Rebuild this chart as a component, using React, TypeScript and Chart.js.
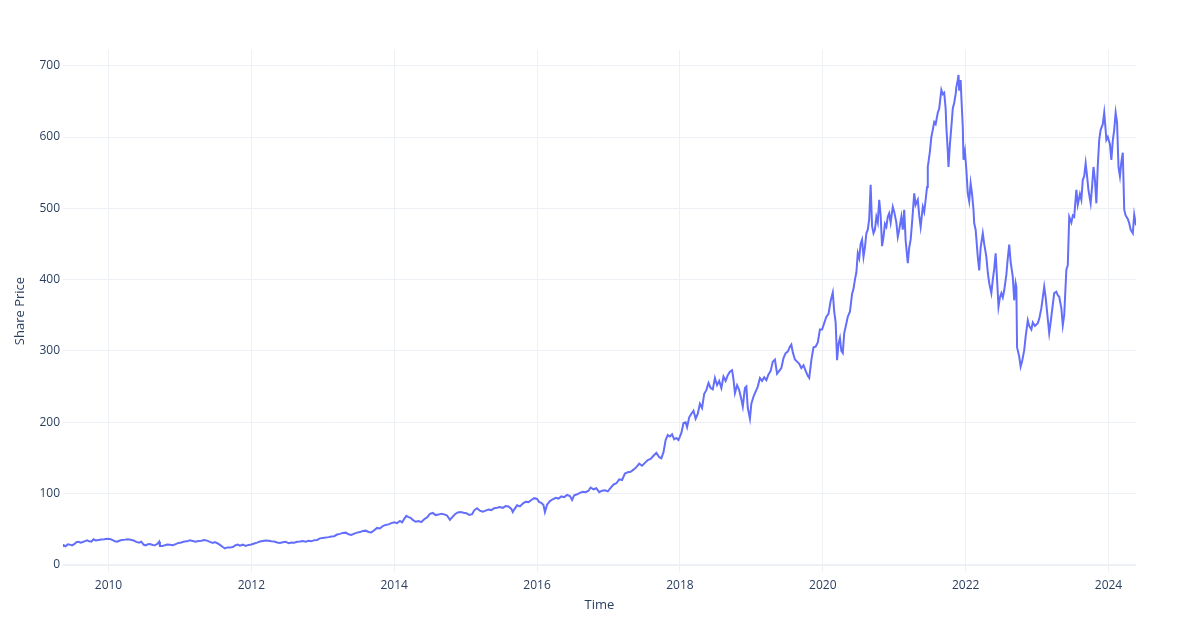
import React, { useEffect, useRef } from "react";
import { Chart, registerables } from "chart.js";

Chart.register(...registerables);

// Time in decimal years
const times: number[] = [
  2009.363, 2009.37, 2009.40, 2009.43, 2009.46, 2009.49, 2009.52, 2009.55, 2009.58, 2009.61,
  2009.64, 2009.67, 2009.70, 2009.73, 2009.76, 2009.79, 2009.82, 2009.86, 2009.90, 2009.94,
  2009.98, 2010.02, 2010.06, 2010.09, 2010.12, 2010.15, 2010.19, 2010.23, 2010.27, 2010.31,
  2010.35, 2010.39, 2010.43, 2010.46, 2010.49, 2010.52, 2010.55, 2010.58, 2010.62, 2010.65,
  2010.69, 2010.71, 2010.72, 2010.75, 2010.79, 2010.82, 2010.86, 2010.90, 2010.94, 2010.98,
  2011.02, 2011.06, 2011.10, 2011.14, 2011.18, 2011.22, 2011.26, 2011.30, 2011.34, 2011.38,
  2011.42, 2011.46, 2011.49, 2011.53, 2011.56, 2011.60, 2011.63, 2011.66, 2011.70, 2011.74,
  2011.78, 2011.81, 2011.84, 2011.88, 2011.92, 2011.96, 2012.00, 2012.04, 2012.08, 2012.12,
  2012.16, 2012.20, 2012.24, 2012.28, 2012.32, 2012.36, 2012.40, 2012.44, 2012.48, 2012.52,
  2012.56, 2012.60, 2012.64, 2012.68, 2012.72, 2012.76, 2012.80, 2012.84, 2012.88, 2012.92,
  2012.96, 2013.00, 2013.04, 2013.08, 2013.12, 2013.16, 2013.20, 2013.24, 2013.28, 2013.32,
  2013.36, 2013.40, 2013.44, 2013.48, 2013.52, 2013.56, 2013.60, 2013.64, 2013.68, 2013.72,
  2013.76, 2013.80, 2013.84, 2013.88, 2013.92, 2013.96, 2014.00, 2014.04, 2014.08, 2014.11,
  2014.14, 2014.17, 2014.20, 2014.23, 2014.26, 2014.30, 2014.34, 2014.38, 2014.42, 2014.46,
  2014.50, 2014.54, 2014.58, 2014.62, 2014.66, 2014.70, 2014.74, 2014.78, 2014.81, 2014.85,
  2014.89, 2014.93, 2014.97, 2015.01, 2015.05, 2015.09, 2015.12, 2015.16, 2015.20, 2015.24,
  2015.28, 2015.32, 2015.36, 2015.40, 2015.44, 2015.48, 2015.52, 2015.56, 2015.60, 2015.64,
  2015.66, 2015.68, 2015.72, 2015.76, 2015.80, 2015.84, 2015.88, 2015.92, 2015.96, 2016.00,
  2016.03, 2016.06, 2016.09, 2016.11, 2016.14, 2016.18, 2016.22, 2016.26, 2016.30, 2016.34,
  2016.38, 2016.42, 2016.46, 2016.49, 2016.52, 2016.56, 2016.60, 2016.64, 2016.68, 2016.72,
  2016.75, 2016.79, 2016.83, 2016.87, 2016.91, 2016.95, 2016.99, 2017.03, 2017.07, 2017.11,
  2017.15, 2017.19, 2017.23, 2017.27, 2017.31, 2017.35, 2017.39, 2017.43, 2017.47, 2017.51,
  2017.55, 2017.59, 2017.63, 2017.67, 2017.71, 2017.74, 2017.77, 2017.80, 2017.83, 2017.86,
  2017.89, 2017.92, 2017.95, 2017.98, 2018.02, 2018.05, 2018.08, 2018.10, 2018.13, 2018.16,
  2018.19, 2018.22, 2018.25, 2018.28, 2018.31, 2018.34, 2018.37, 2018.40, 2018.43, 2018.46,
  2018.49, 2018.52, 2018.55, 2018.58, 2018.61, 2018.64, 2018.67, 2018.70, 2018.73, 2018.75,
  2018.77, 2018.80, 2018.83, 2018.86, 2018.88, 2018.91, 2018.93, 2018.95, 2018.98, 2019.00,
  2019.03, 2019.06, 2019.09, 2019.12, 2019.15, 2019.18, 2019.21, 2019.24, 2019.27, 2019.30,
  2019.33, 2019.36, 2019.39, 2019.42, 2019.45, 2019.48, 2019.51, 2019.54, 2019.56, 2019.58,
  2019.61, 2019.64, 2019.67, 2019.70, 2019.73, 2019.76, 2019.79, 2019.81, 2019.84, 2019.87,
  2019.90, 2019.93, 2019.96, 2019.99, 2020.02, 2020.05, 2020.08, 2020.11, 2020.14, 2020.16,
  2020.18, 2020.20, 2020.22, 2020.24, 2020.26, 2020.28, 2020.30, 2020.32, 2020.35, 2020.38,
  2020.41, 2020.43, 2020.45, 2020.47, 2020.49, 2020.51, 2020.53, 2020.55, 2020.57, 2020.59,
  2020.61, 2020.63, 2020.65, 2020.67, 2020.69, 2020.71, 2020.73, 2020.75, 2020.77, 2020.79,
  2020.81, 2020.83, 2020.85, 2020.87, 2020.89, 2020.91, 2020.93, 2020.95, 2020.98, 2021.00,
  2021.03, 2021.05, 2021.07, 2021.10, 2021.12, 2021.14, 2021.16, 2021.19, 2021.21, 2021.23,
  2021.25, 2021.28, 2021.30, 2021.33, 2021.35, 2021.37, 2021.40, 2021.42, 2021.44, 2021.46,
  2021.47, 2021.50, 2021.52, 2021.54, 2021.56, 2021.58, 2021.61, 2021.63, 2021.66, 2021.68,
  2021.70, 2021.72, 2021.73, 2021.75, 2021.76, 2021.78, 2021.80, 2021.82, 2021.84, 2021.86,
  2021.87, 2021.89, 2021.90, 2021.91, 2021.93, 2021.94, 2021.96, 2021.97, 2021.99, 2022.01,
  2022.03, 2022.05, 2022.07, 2022.09, 2022.11, 2022.12, 2022.14, 2022.17, 2022.19, 2022.21,
  2022.24, 2022.26, 2022.29, 2022.31, 2022.33, 2022.36, 2022.38, 2022.40, 2022.42, 2022.44,
  2022.46, 2022.48, 2022.50, 2022.52, 2022.54, 2022.57, 2022.59, 2022.61, 2022.63, 2022.66,
  2022.68, 2022.70, 2022.71, 2022.72, 2022.75, 2022.77, 2022.79, 2022.82, 2022.84, 2022.87,
  2022.89, 2022.92, 2022.94, 2022.97, 2023.01, 2023.03, 2023.06, 2023.08, 2023.10, 2023.12,
  2023.15, 2023.17, 2023.19, 2023.22, 2023.24, 2023.27, 2023.29, 2023.31, 2023.34, 2023.36,
  2023.38, 2023.41, 2023.43, 2023.45, 2023.48, 2023.50, 2023.52, 2023.55, 2023.57, 2023.60,
  2023.62, 2023.64, 2023.66, 2023.68, 2023.70, 2023.72, 2023.75, 2023.77, 2023.79, 2023.81,
  2023.83, 2023.85, 2023.87, 2023.89, 2023.92, 2023.94, 2023.96, 2023.97, 2023.99, 2024.02,
  2024.04, 2024.06, 2024.08, 2024.10, 2024.12, 2024.14, 2024.16, 2024.18, 2024.20, 2024.22,
  2024.24, 2024.27, 2024.29, 2024.31, 2024.34, 2024.36, 2024.385,
];

// Share price
const prices: number[] = [
  26.5, 27.8, 26.2, 28.9, 28.4, 27.2, 29.0, 31.8, 32.3, 31.0,
  32.0, 33.2, 34.5, 33.0, 32.4, 35.8, 34.2, 34.9, 35.5, 35.8,
  36.7, 36.2, 34.8, 33.0, 32.4, 33.8, 35.0, 35.4, 35.9, 35.2,
  34.3, 32.2, 31.0, 32.5, 28.5, 27.4, 28.8, 29.2, 28.0, 27.5,
  30.0, 32.5, 26.5, 26.3, 27.5, 28.5, 28.3, 27.6, 29.0, 30.8,
  31.5, 32.8, 33.0, 34.4, 33.5, 32.6, 33.4, 33.8, 34.8, 34.0,
  32.2, 30.8, 31.9, 30.0, 28.0, 25.0, 23.0, 24.5, 24.2, 25.0,
  27.5, 28.5, 27.0, 28.3, 26.6, 28.0, 28.5, 30.0, 31.2, 32.8,
  33.5, 34.2, 33.8, 33.0, 32.8, 31.5, 30.8, 31.8, 32.5, 30.5,
  31.5, 31.0, 32.3, 32.8, 33.5, 32.6, 33.8, 33.0, 34.6, 35.0,
  37.2, 37.8, 38.3, 38.9, 39.8, 40.2, 42.5, 43.5, 44.8, 45.2,
  43.0, 42.0, 43.8, 45.2, 46.0, 47.5, 48.0, 46.2, 45.5, 48.5,
  51.8, 51.0, 54.5, 56.0, 56.8, 58.5, 59.8, 58.5, 61.5, 59.5,
  64.5, 68.8, 67.0, 66.0, 63.0, 60.5, 61.5, 60.0, 64.0, 66.5,
  71.5, 72.8, 69.8, 70.5, 71.8, 70.8, 69.2, 63.0, 66.5, 71.0,
  73.5, 74.2, 73.0, 72.5, 70.0, 71.0, 76.5, 79.5, 76.0, 74.5,
  76.0, 77.5, 76.8, 79.5, 80.2, 81.0, 80.0, 82.5, 82.0, 78.5,
  74.0, 77.5, 83.5, 82.0, 86.0, 88.5, 88.0, 91.0, 93.5, 92.5,
  88.0, 87.0, 84.0, 74.0, 84.5, 89.5, 92.0, 94.0, 93.0, 96.0,
  95.0, 98.0, 96.5, 91.0, 97.5, 99.0, 101.0, 102.5, 102.0, 104.0,
  108.5, 106.0, 107.5, 102.0, 104.0, 104.5, 103.0, 108.0, 112.5, 114.5,
  120.0, 119.0, 128.0, 130.0, 130.5, 133.5, 137.0, 142.0, 139.0, 143.0,
  147.0, 148.5, 153.0, 157.0, 151.0, 149.5, 158.0, 175.0, 182.0, 180.0,
  183.0, 176.0, 178.0, 175.0, 185.0, 199.0, 200.0, 193.0, 207.0, 212.0,
  216.0, 205.0, 212.0, 226.0, 220.0, 240.0, 245.0, 255.0, 248.0, 246.0,
  262.0, 252.0, 258.0, 248.0, 264.0, 258.0, 266.0, 271.0, 273.0, 260.0,
  241.0, 252.0, 245.0, 232.0, 222.0, 248.0, 250.0, 220.0, 205.0, 226.0,
  236.0, 243.0, 250.0, 262.0, 258.0, 263.0, 259.0, 267.0, 272.0, 285.0,
  288.0, 268.0, 272.0, 276.0, 290.0, 297.0, 299.0, 306.0, 309.0, 298.0,
  288.0, 285.0, 282.0, 276.0, 280.0, 272.0, 265.0, 262.0, 287.0, 305.0,
  306.0, 312.0, 330.0, 330.0, 339.0, 348.0, 352.0, 370.0, 382.0, 355.0,
  340.0, 287.0, 310.0, 318.0, 300.0, 297.0, 325.0, 334.0, 348.0, 355.0,
  380.0, 387.0, 400.0, 410.0, 437.0, 430.0, 450.0, 456.0, 432.0, 445.0,
  465.0, 470.0, 485.0, 533.0, 475.0, 465.0, 470.0, 488.0, 480.0, 512.0,
  490.0, 447.0, 460.0, 478.0, 474.0, 488.0, 493.0, 480.0, 502.0, 495.0,
  480.0, 460.0, 470.0, 488.0, 470.0, 498.0, 455.0, 423.0, 445.0, 456.0,
  480.0, 521.0, 505.0, 512.0, 490.0, 474.0, 502.0, 495.0, 512.0, 530.0,
  558.0, 580.0, 600.0, 610.0, 621.0, 618.0, 634.0, 640.0, 666.0, 660.0,
  662.0, 640.0, 614.0, 580.0, 558.0, 590.0, 614.0, 640.0, 648.0, 660.0,
  670.0, 680.0, 687.0, 665.0, 680.0, 656.0, 614.0, 568.0, 580.0, 554.0,
  521.0, 510.0, 535.0, 520.0, 498.0, 479.0, 470.0, 432.0, 413.0, 445.0,
  465.0, 450.0, 432.0, 410.0, 395.0, 381.0, 400.0, 415.0, 437.0, 400.0,
  362.0, 375.0, 381.0, 375.0, 385.0, 407.0, 430.0, 449.0, 425.0, 404.0,
  371.0, 395.0, 390.0, 305.0, 292.0, 278.0, 285.0, 301.0, 320.0, 343.0,
  335.0, 330.0, 340.0, 335.0, 339.0, 345.0, 360.0, 375.0, 390.0, 375.0,
  345.0, 325.0, 340.0, 365.0, 381.0, 383.0, 378.0, 376.0, 360.0, 336.0,
  350.0, 414.0, 420.0, 488.0, 480.0, 490.0, 488.0, 526.0, 505.0, 520.0,
  512.0, 540.0, 545.0, 563.0, 545.0, 525.0, 507.0, 530.0, 558.0, 540.0,
  507.0, 560.0, 596.0, 610.0, 618.0, 634.0, 610.0, 596.0, 600.0, 590.0,
  568.0, 595.0, 610.0, 634.0, 620.0, 558.0, 545.0, 565.0, 578.0, 498.0,
  490.0, 485.0, 479.0, 470.0, 465.0, 491.0, 476.0,
];

const yTicks: number[] = [0, 100, 200, 300, 400, 500, 600, 700];
const xTickYears: number[] = [2010, 2012, 2014, 2016, 2018, 2020, 2022, 2024];

const xTitle = "Time";
const yTitle = "Share Price";

const TEXT = "#2a3f5f";
const GRID = "#EDF0F5";
const LINE = "#636efa";
const FONT = "'Open Sans', verdana, arial, sans-serif";

export default function App() {
  const ref = useRef<HTMLCanvasElement | null>(null);

  useEffect(() => {
    if (!ref.current) return;
    const points = times.map((t, i) => ({ x: t, y: prices[i] }));
    const chart = new Chart(ref.current, {
      type: "line",
      data: {
        datasets: [
          {
            label: "Share Price",
            data: points,
            borderColor: LINE,
            backgroundColor: LINE,
            borderWidth: 2,
            pointRadius: 0,
            tension: 0,
            fill: false,
          },
        ],
      },
      options: {
        responsive: false,
        animation: false,
        devicePixelRatio: 1,
        layout: { padding: { left: 0, right: 64, top: 50, bottom: 0 } },
        plugins: {
          legend: { display: false },
          tooltip: { enabled: false },
        },
        scales: {
          x: {
            type: "linear",
            min: times[0],
            max: times[times.length - 1],
            afterFit: (s: any) => {
              s.height = 68;
            },
            afterBuildTicks: (s: any) => {
              s.ticks = xTickYears.map((v) => ({ value: v }));
            },
            ticks: {
              callback: (v: any) => String(v),
              color: TEXT,
              font: { family: FONT, size: 12 },
              padding: 6,
              maxRotation: 0,
              autoSkip: false,
            },
            grid: { color: GRID, lineWidth: 1, drawTicks: false },
            border: { display: false },
            title: {
              display: true,
              text: xTitle,
              color: TEXT,
              font: { family: FONT, size: 13 },
              padding: { top: 0, bottom: 27 },
            },
          },
          y: {
            type: "linear",
            min: -10,
            max: 722,
            afterFit: (s: any) => {
              s.width = 63;
            },
            afterBuildTicks: (s: any) => {
              s.ticks = yTicks.map((v) => ({ value: v }));
            },
            ticks: {
              callback: (v: any) => String(v),
              color: TEXT,
              font: { family: FONT, size: 12 },
              padding: 3,
              autoSkip: false,
            },
            grid: {
              color: GRID,
              lineWidth: (c: any) => (c.tick && c.tick.value === 0 ? 2 : 1),
              drawTicks: false,
            },
            border: { display: false },
            title: {
              display: true,
              text: yTitle,
              color: TEXT,
              font: { family: FONT, size: 13 },
              padding: { top: 12, bottom: 0 },
            },
          },
        },
      },
    });
    return () => chart.destroy();
  }, []);

  return (
    <div
      style={{
        position: "fixed",
        left: 0,
        top: 0,
        width: 1200,
        height: 640,
        background: "#ffffff",
      }}
    >
      <canvas ref={ref} width={1200} height={640} />
    </div>
  );
}
